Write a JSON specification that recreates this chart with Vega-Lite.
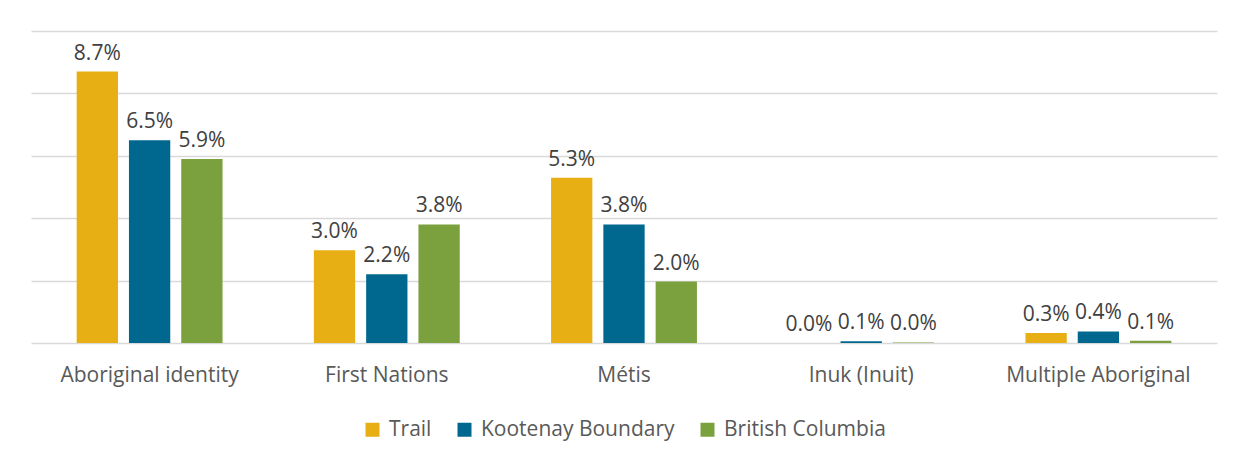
{
  "$schema": "https://vega.github.io/schema/vega-lite/v6.json",
  "width": 1186,
  "height": 312,
  "padding": {"left": 31, "top": 31, "right": 30, "bottom": 10},
  "background": "white",
  "config": {"view": {"stroke": null}, "font": "Open Sans", "legend": {"layout": {"bottom": {"anchor": "middle"}}}},
  "data": {
    "values": [
      {"category": "Aboriginal identity", "series": "Trail", "value": 0.087},
      {"category": "Aboriginal identity", "series": "Kootenay Boundary", "value": 0.065},
      {"category": "Aboriginal identity", "series": "British Columbia", "value": 0.059},
      {"category": "First Nations", "series": "Trail", "value": 0.0297},
      {"category": "First Nations", "series": "Kootenay Boundary", "value": 0.022},
      {"category": "First Nations", "series": "British Columbia", "value": 0.038},
      {"category": "Métis", "series": "Trail", "value": 0.053},
      {"category": "Métis", "series": "Kootenay Boundary", "value": 0.038},
      {"category": "Métis", "series": "British Columbia", "value": 0.0197},
      {"category": "Inuk (Inuit)", "series": "Trail", "value": 0.0},
      {"category": "Inuk (Inuit)", "series": "Kootenay Boundary", "value": 0.0006},
      {"category": "Inuk (Inuit)", "series": "British Columbia", "value": 0.0002},
      {"category": "Multiple Aboriginal", "series": "Trail", "value": 0.0032},
      {"category": "Multiple Aboriginal", "series": "Kootenay Boundary", "value": 0.0037},
      {"category": "Multiple Aboriginal", "series": "British Columbia", "value": 0.0007}
    ]
  },
  "encoding": {
    "x": {
      "field": "category",
      "type": "nominal",
      "sort": ["Aboriginal identity", "First Nations", "Métis", "Inuk (Inuit)", "Multiple Aboriginal"],
      "scale": {"paddingInner": 0.385, "paddingOuter": 0.1925},
      "axis": {
        "title": null,
        "labelAngle": 0,
        "ticks": false,
        "domain": false,
        "labelPadding": 21,
        "labelFontSize": 21,
        "labelColor": "#595959",
        "labelFont": "Open Sans",
        "labelLimit": 0
      }
    },
    "xOffset": {
      "field": "series",
      "type": "nominal",
      "sort": ["Trail", "Kootenay Boundary", "British Columbia"],
      "scale": {"paddingInner": 0.21, "paddingOuter": 0}
    },
    "y": {
      "field": "value",
      "type": "quantitative",
      "scale": {"domain": [0, 0.1], "nice": false},
      "axis": {
        "title": null,
        "labels": false,
        "ticks": false,
        "domain": false,
        "values": [0, 0.02, 0.04, 0.06, 0.08, 0.1],
        "gridColor": "#D9D9D9",
        "gridWidth": 1.5
      }
    }
  },
  "layer": [
    {
      "mark": {"type": "bar"},
      "encoding": {
        "color": {
          "field": "series",
          "type": "nominal",
          "sort": ["Trail", "Kootenay Boundary", "British Columbia"],
          "scale": {
            "domain": ["Trail", "Kootenay Boundary", "British Columbia"],
            "range": ["#E8AF14", "#00688F", "#7BA03E"]
          },
          "legend": {
            "title": null,
            "orient": "bottom",
            "direction": "horizontal",
            "symbolType": "square",
            "symbolSize": 196,
            "symbolStrokeWidth": 0,
            "symbolOpacity": 1,
            "labelFontSize": 21,
            "labelFont": "Open Sans",
            "labelColor": "#595959",
            "labelOffset": 6,
            "labelLimit": 0,
            "columnPadding": 22,
            "offset": 34
          }
        }
      }
    },
    {
      "mark": {"type": "text", "dy": -12, "baseline": "alphabetic", "fontSize": 21, "font": "Open Sans", "color": "#404040"},
      "encoding": {
        "text": {"field": "value", "type": "quantitative", "format": ".1%"}
      }
    }
  ]
}
